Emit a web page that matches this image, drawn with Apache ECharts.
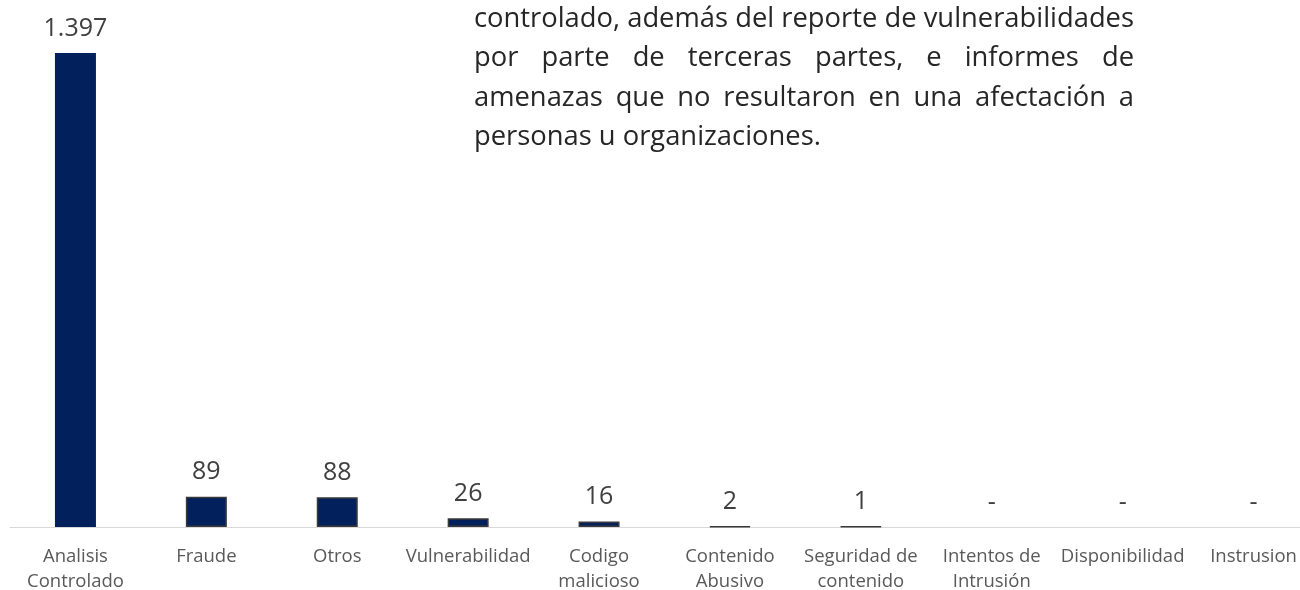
<!DOCTYPE html>
<html>
<head>
<meta charset="utf-8">
<script src="https://cdn.jsdelivr.net/npm/echarts@6/dist/echarts.min.js"></script>
<style>
  html, body { margin: 0; padding: 0; background: #fff; overflow: hidden; }
  #chart { width: 1300px; height: 590px; }
</style>
</head>
<body>
<div id="chart"></div>
<script>
// datos
const categories = [
  'Analisis\nControlado', 'Fraude', 'Otros', 'Vulnerabilidad', 'Codigo\nmalicioso',
  'Contenido\nAbusivo', 'Seguridad de\ncontenido', 'Intentos de\nIntrusión', 'Disponibilidad', 'Instrusion'
];
const values = [1397, 89, 88, 26, 16, 2, 1, 0, 0, 0];

// texto del párrafo (justificado)
const paragraphLines = [
  'controlado, además del reporte de vulnerabilidades',
  'por parte de terceras partes, e informes de',
  'amenazas que no resultaron en una afectación a',
  'personas u organizaciones.'
];

const chartDom = document.getElementById('chart');
const myChart = echarts.init(chartDom);

// formato 1.397
function fmt(v) {
  if (!v) return '-';
  return String(v).replace(/\B(?=(\d{3})+(?!\d))/g, '.');
}

// medir palabras para justificar
const FONT_FAMILY = '"Open Sans", sans-serif';
const PAR_LEFT = 474, PAR_RIGHT = 1134;
const ctx = document.createElement('canvas').getContext('2d');
function measure(txt, size) {
  ctx.font = size + 'px ' + FONT_FAMILY;
  return ctx.measureText(txt).width;
}
let parSize = 24 * (PAR_RIGHT - PAR_LEFT) / measure(paragraphLines[0], 24);
parSize = Math.min(parSize, 30);

const graphics = [];
paragraphLines.forEach((line, i) => {
  const y = 19.5 + i * 39.2;
  const last = i === paragraphLines.length - 1;
  const words = last ? [line] : line.split(' ');
  const total = words.reduce((s, w) => s + measure(w, parSize), 0);
  const gap = last ? 0 : (PAR_RIGHT - PAR_LEFT - total) / (words.length - 1);
  let x = PAR_LEFT;
  words.forEach(w => {
    graphics.push({
      type: 'text', x: x, y: y,
      style: { text: w, fontSize: parSize, fontFamily: FONT_FAMILY, fill: '#262626',
               textAlign: 'left', textVerticalAlign: 'middle' }
    });
    x += measure(w, parSize) + gap;
  });
});

const barData = values.map((v, i) => ({
  value: v,
  itemStyle: { borderWidth: (i === 0 || v === 0) ? 0 : 1.5 }
}));

const option = {
  animation: false,
  grid: { left: 10, right: -19, top: 53, bottom: 63, containLabel: false, outerBoundsMode: 'none' },
  xAxis: {
    type: 'category',
    data: categories,
    axisLine: { show: true, lineStyle: { color: '#d9d9d9', width: 1 } },
    axisTick: { show: false },
    axisLabel: {
      interval: 0,
      margin: 17,
      color: '#595959',
      fontSize: 18.5,
      lineHeight: 25,
      fontFamily: FONT_FAMILY
    }
  },
  yAxis: {
    type: 'value',
    min: 0,
    max: 1397,
    show: false,
    splitLine: { show: false }
  },
  series: [{
    type: 'bar',
    data: barData,
    barWidth: 41,
    itemStyle: { color: '#02205c', borderColor: '#3a3a3a' },
    label: {
      show: true,
      position: 'top',
      distance: 12,
      color: '#404040',
      fontSize: 25,
      fontFamily: FONT_FAMILY,
      formatter: p => fmt(p.value)
    }
  }],
  graphic: graphics
};

myChart.setOption(option);
</script>
</body>
</html>
